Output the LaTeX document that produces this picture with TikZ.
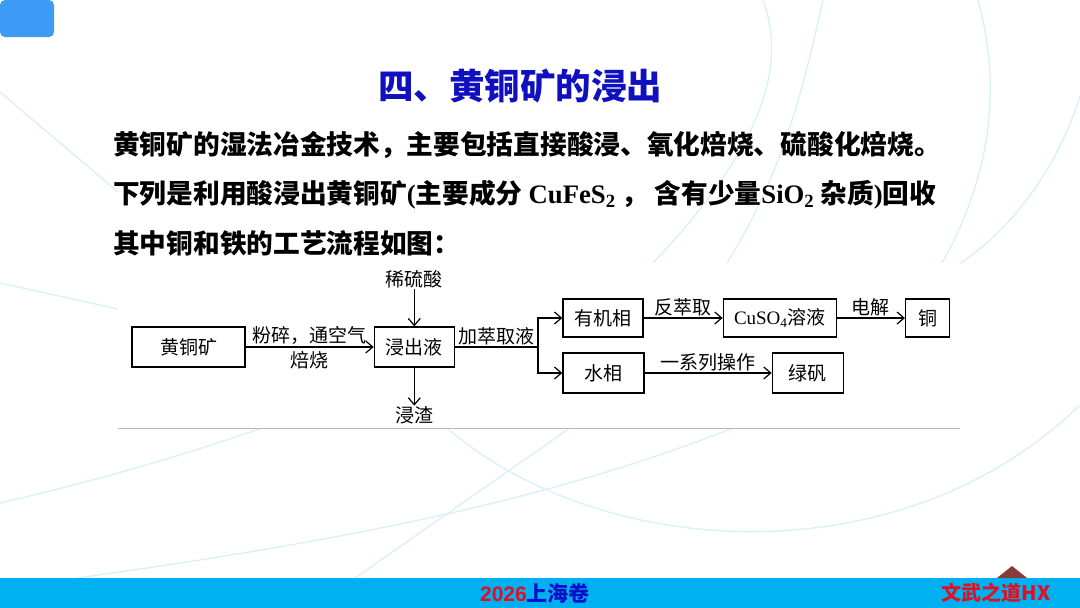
\documentclass[tikz,border=0pt]{standalone}
\usepackage{fontspec}
\setmainfont{Liberation Serif}
\newfontfamily\cjk{Noto Sans CJK SC}
\newfontfamily\tnr{Liberation Serif}
\newfontfamily\arl{Liberation Sans}
\usetikzlibrary{arrows.meta,positioning}
\definecolor{titleblue}{HTML}{1010C0}
\definecolor{barcyan}{HTML}{00B0F0}
\definecolor{tagblue}{HTML}{3D9BF5}
\definecolor{arccyan}{HTML}{DAF0F7}
\definecolor{footred}{HTML}{E01020}
\definecolor{footblue}{HTML}{0A10C8}
\definecolor{peak}{HTML}{8B3A3A}
\newcommand\flowfont{\cjk\fontsize{19}{22}\selectfont}

\begin{document}
\begin{tikzpicture}[
  x=1pt, y=-1pt,
  box/.style={draw, line width=1.3pt, minimum height=40pt, inner sep=0pt,
              font=\flowfont},
  lbl/.style={inner sep=1pt, font=\flowfont},
  arr/.style={-{Straight Barb[length=7pt,width=12pt]}, line width=1.2pt},
  para/.style={anchor=west, inner sep=0pt,
               font=\cjk\bfseries\fontsize{26.7}{32}\selectfont},
  bg/.style={arccyan, line width=1.3pt}
]
\useasboundingbox (0,0) rectangle (1080,608);
\fill[white] (0,0) rectangle (1080,608);

% ---- background arcs ----
\draw[bg] (0,92) -- (118,192);
\draw[bg] (0,283) -- (118,309);
\draw[bg] (0,503) .. controls (120,475) and (200,450) .. (300,415);
\draw[bg] (77,578) .. controls (350,540) and (550,500) .. (733,428);
\draw[bg] (355,578) -- (570,428);
\draw[bg] (447,428) .. controls (600,560) and (900,580) .. (1080,405);
\draw[bg] (763,0) .. controls (785,60) and (770,140) .. (653,263);
\draw[bg] (823,0) .. controls (805,80) and (785,170) .. (727,263);
\draw[bg] (978,0) .. controls (1000,80) and (995,170) .. (941,265);
\draw[bg] (1085,80) .. controls (1060,170) and (1010,230) .. (958,265);

% ---- header ----
\fill[tagblue, rounded corners=5pt] (0,0) rectangle (54,37);
\node[font=\cjk\bfseries\fontsize{35.5}{40}\selectfont, text=titleblue]
  (title) at (520,86) {四、黄铜矿的浸出};

% ---- question text ----
\node[para] (l1) at (113,145)
  {黄铜矿的湿法冶金技术，主要包括直接酸浸、氧化焙烧、硫酸化焙烧。};
\node[para] (l2) at (113,195)
  {下列是利用酸浸出黄铜矿{\tnr(}主要成分 {\tnr CuFeS\textsubscript{2}} ， 含有少量{\tnr SiO\textsubscript{2}} 杂质{\tnr)}回收};
\node[para] (l3) at (113,243) {其中铜和铁的工艺流程如图：};

% ---- flow chart ----
\fill[white] (118,263) rectangle (960,428);
\draw[gray!55, line width=0.8pt] (118,428) -- (960,428);

\node[box, minimum width=113pt] (ore) at (188.5,347) {黄铜矿};
\node[box, minimum width=80pt, right=128pt of ore] (leach) {浸出液};
\node[box, minimum width=80pt, minimum height=38pt] (org) at (603,318) {有机相};
\node[box, minimum width=81pt] (aq) at (603.5,373) {水相};
\node[box, minimum width=113pt, minimum height=38pt, right=79pt of org] (cuso)
  {{\tnr CuSO\textsubscript{4}}溶液};
\node[box, minimum width=44pt, minimum height=38pt, right=68pt of cuso] (cu) {铜};
\node[box, minimum width=71pt, right=127pt of aq] (vitriol) {绿矾};

\node[lbl, above=37pt of leach] (acid) {稀硫酸};
\node[lbl, below=38pt of leach] (slag) {浸渣};
\coordinate (split) at (538,347);

% arrows
\draw[arr] (ore) -- node[lbl, above=1pt] {粉碎，通空气} node[lbl, below=3pt] {焙烧} (leach);
\draw[arr] (acid) -- (leach);
\draw[arr] (leach) -- (slag);
\draw[line width=1.2pt] (leach) -- node[lbl, above] {加萃取液} (split);
\draw[arr] (split) |- (org);
\draw[arr] (split) |- (aq);
\draw[arr] (org) -- node[lbl, above] {反萃取} (cuso);
\draw[arr] (cuso) -- node[lbl, above] {电解} (cu);
\draw[arr] (aq) -- node[lbl, above] {一系列操作} (vitriol);

% ---- footer ----
\fill[barcyan] (0,578) rectangle (1080,608);
\fill[peak] (997,578) -- (1012,566) -- (1027,578) -- cycle;
\node[font=\fontsize{21}{24}\selectfont] (exam) at (535,593)
  {{\arl\bfseries\color{footred}2026}{\cjk\bfseries\color{footblue}上海卷}};
\node[font=\cjk\bfseries\fontsize{20}{23}\selectfont, text=footred] (brand)
  at (996,593) {文武之道HX};
\end{tikzpicture}
\end{document}
